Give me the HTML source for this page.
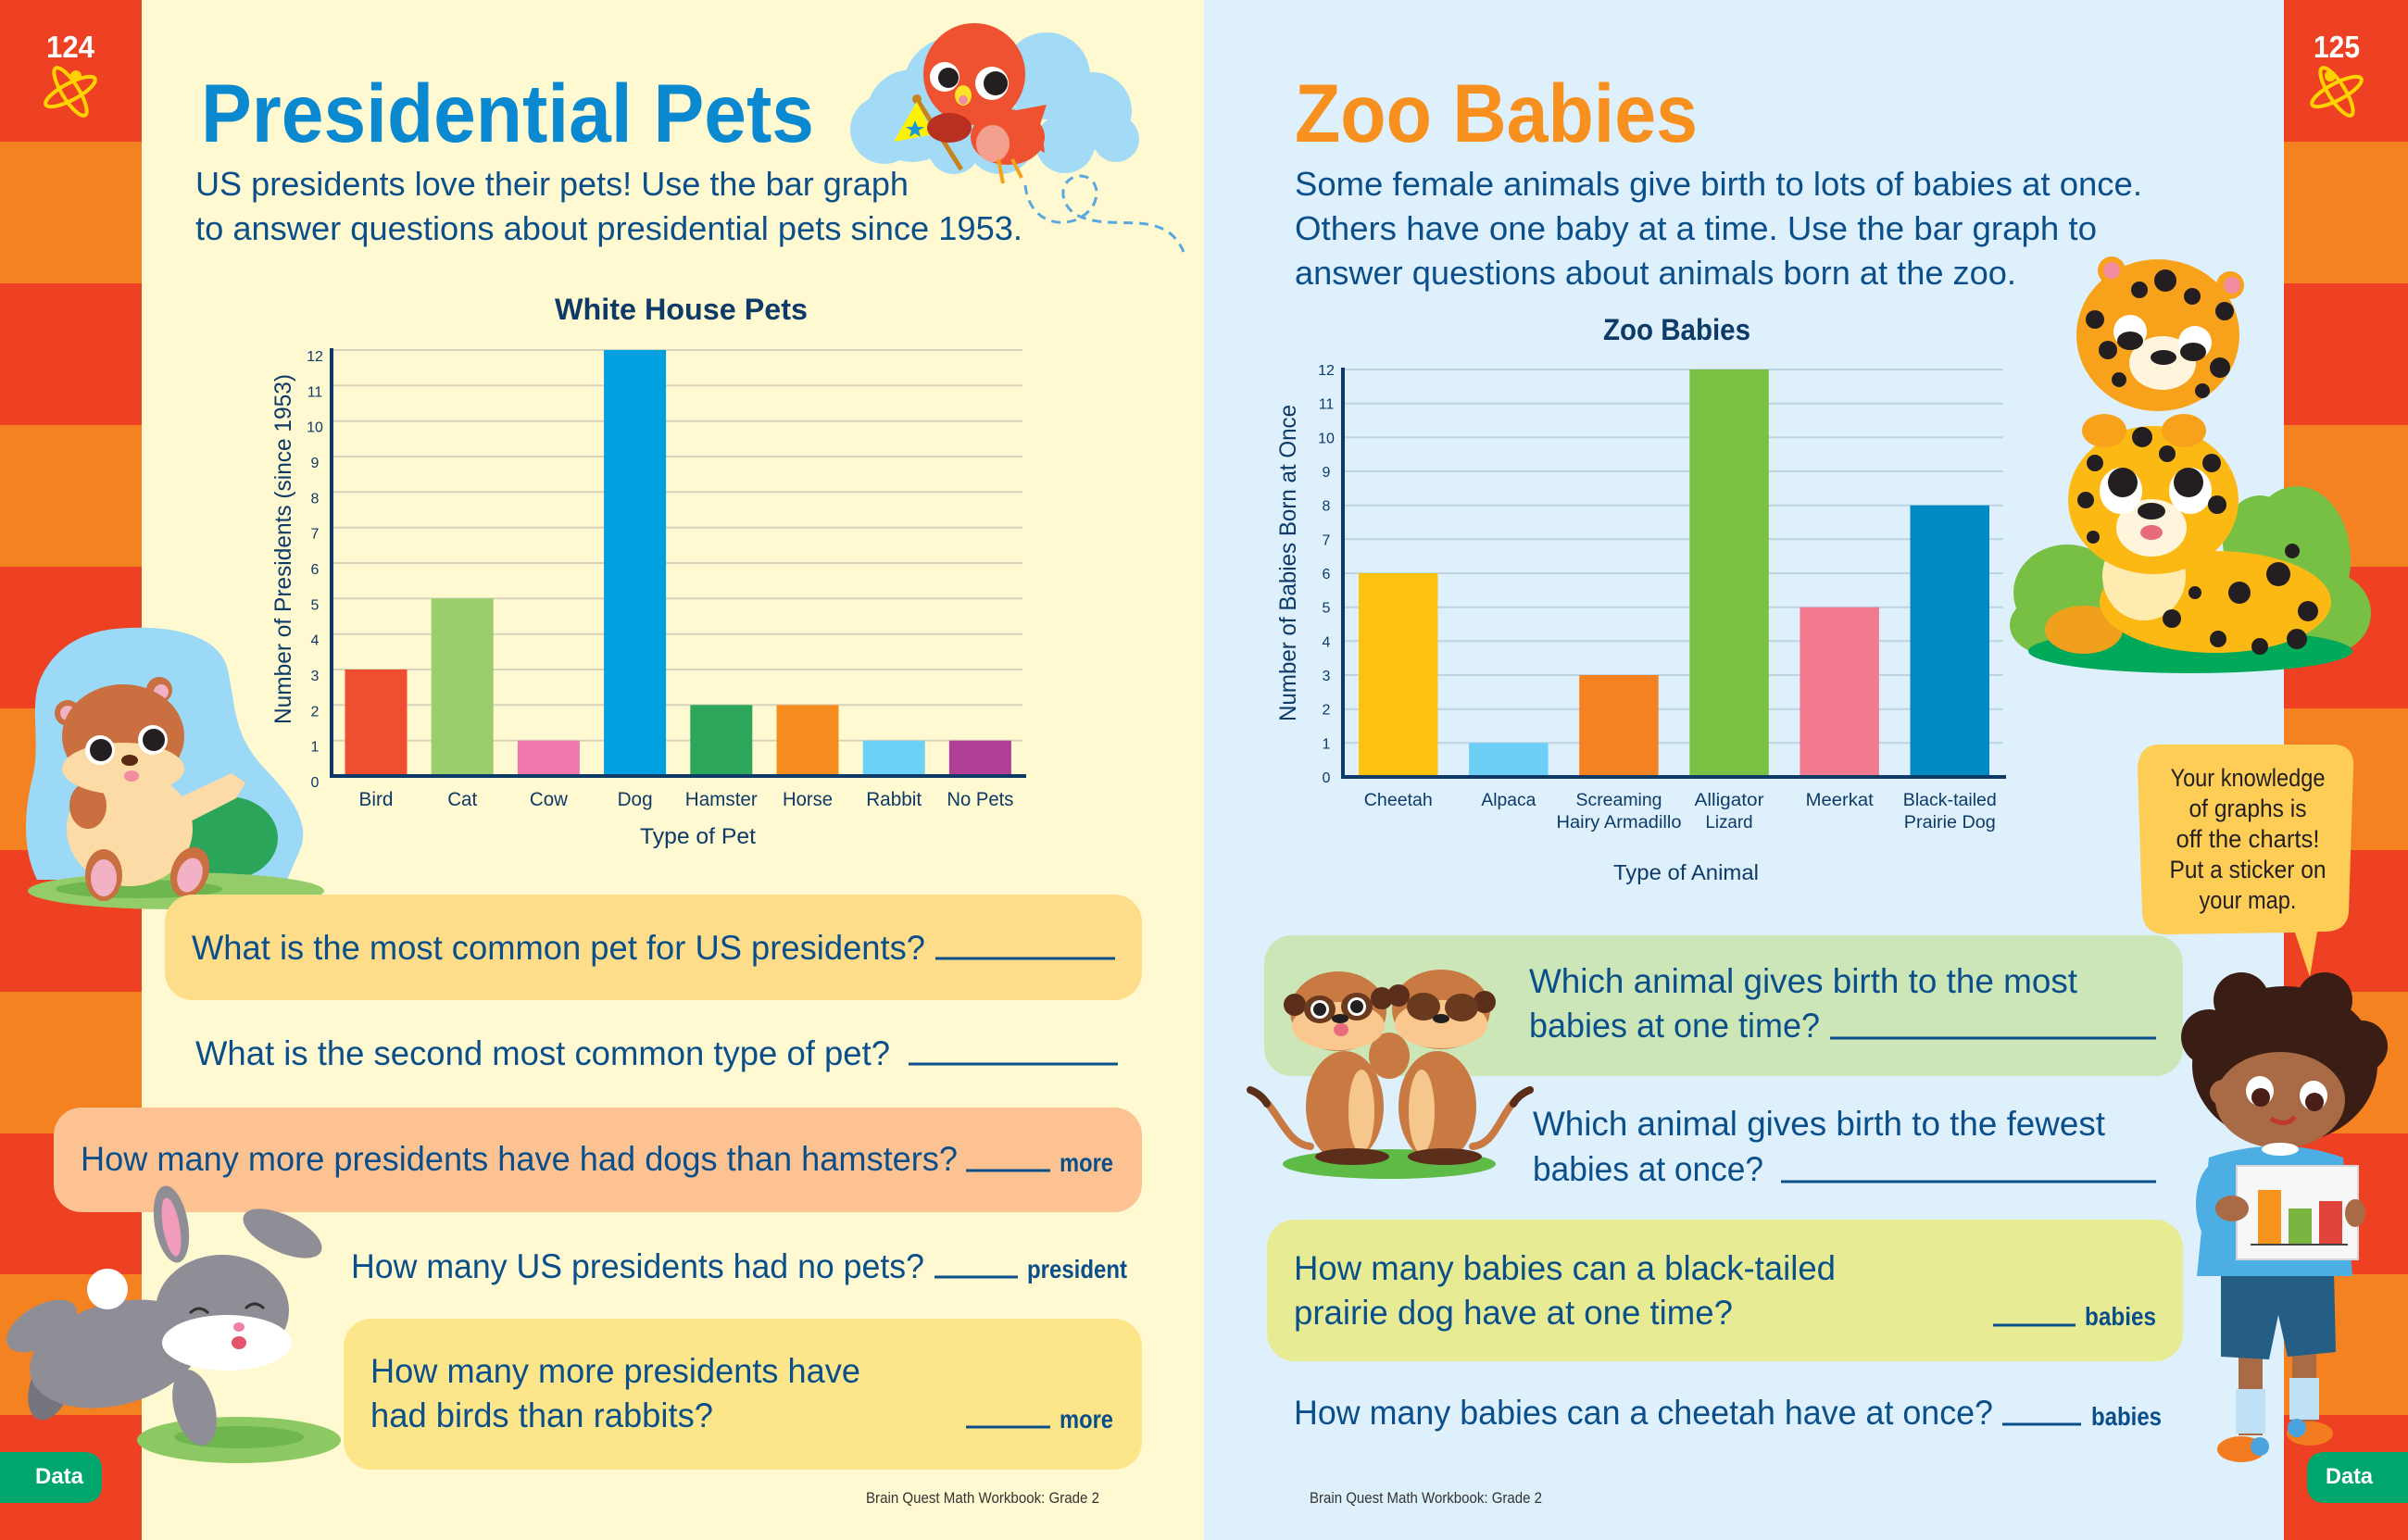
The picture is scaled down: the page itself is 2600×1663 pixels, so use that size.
<!DOCTYPE html>
<html><head><meta charset="utf-8">
<style>
html,body{margin:0;padding:0;background:#fff;}
svg{display:block;}
text{font-family:"Liberation Sans",sans-serif;}
.nv{fill:#0d3a66;}
.bd{fill:#0b4f8a;}
</style></head>
<body>
<svg width="2600" height="1663" viewBox="0 0 2600 1663" xmlns="http://www.w3.org/2000/svg">
<!-- page backgrounds -->
<rect x="0" y="0" width="1300" height="1663" fill="#fff9d1"/>
<rect x="1300" y="0" width="1300" height="1663" fill="#ddf0fc"/>
<!-- side stripes -->
<g>
<rect x="0" y="0" width="153" height="153" fill="#ee4123"/>
<rect x="0" y="153" width="153" height="153" fill="#f58220"/>
<rect x="0" y="306" width="153" height="153" fill="#ee4123"/>
<rect x="0" y="459" width="153" height="153" fill="#f58220"/>
<rect x="0" y="612" width="153" height="153" fill="#ee4123"/>
<rect x="0" y="765" width="153" height="153" fill="#f58220"/>
<rect x="0" y="918" width="153" height="153" fill="#ee4123"/>
<rect x="0" y="1071" width="153" height="153" fill="#f58220"/>
<rect x="0" y="1224" width="153" height="152" fill="#ee4123"/>
<rect x="0" y="1376" width="153" height="152" fill="#f58220"/>
<rect x="0" y="1528" width="153" height="135" fill="#ee4123"/>
<rect x="2466" y="0" width="134" height="153" fill="#ee4123"/>
<rect x="2466" y="153" width="134" height="153" fill="#f58220"/>
<rect x="2466" y="306" width="134" height="153" fill="#ee4123"/>
<rect x="2466" y="459" width="134" height="153" fill="#f58220"/>
<rect x="2466" y="612" width="134" height="153" fill="#ee4123"/>
<rect x="2466" y="765" width="134" height="153" fill="#f58220"/>
<rect x="2466" y="918" width="134" height="153" fill="#ee4123"/>
<rect x="2466" y="1071" width="134" height="153" fill="#f58220"/>
<rect x="2466" y="1224" width="134" height="152" fill="#ee4123"/>
<rect x="2466" y="1376" width="134" height="152" fill="#f58220"/>
<rect x="2466" y="1528" width="134" height="135" fill="#ee4123"/>
</g>
<!-- page numbers & atom icons -->
<text x="76" y="62" font-size="33" font-weight="bold" fill="#fff" text-anchor="middle" textLength="52" lengthAdjust="spacingAndGlyphs">124</text>
<text x="2523" y="62" font-size="33" font-weight="bold" fill="#fff" text-anchor="middle" textLength="50" lengthAdjust="spacingAndGlyphs">125</text>
<g fill="none" stroke="#ffd200" stroke-width="4">
<ellipse cx="76" cy="99" rx="30" ry="9" transform="rotate(-28 76 99)"/>
<ellipse cx="76" cy="99" rx="30" ry="9" transform="rotate(58 76 99)"/>
<ellipse cx="2523" cy="99" rx="30" ry="9" transform="rotate(-28 2523 99)"/>
<ellipse cx="2523" cy="99" rx="30" ry="9" transform="rotate(58 2523 99)"/>
</g>
<circle cx="82" cy="82" r="6" fill="#ffd200"/>
<circle cx="2516" cy="82" r="6" fill="#ffd200"/>

<!-- Titles -->
<text x="217" y="153" font-size="89" font-weight="bold" fill="#0b89d0" textLength="662" lengthAdjust="spacingAndGlyphs">Presidential Pets</text>
<text x="1398" y="153" font-size="89" font-weight="bold" fill="#f7901e" textLength="435" lengthAdjust="spacingAndGlyphs">Zoo Babies</text>

<!-- Subtitles -->
<g class="bd" font-size="36">
<text x="211" y="211" textLength="770" lengthAdjust="spacingAndGlyphs">US presidents love their pets! Use the bar graph</text>
<text x="211" y="259" textLength="893" lengthAdjust="spacingAndGlyphs">to answer questions about presidential pets since 1953.</text>
<text x="1398" y="211" textLength="915" lengthAdjust="spacingAndGlyphs">Some female animals give birth to lots of babies at once.</text>
<text x="1398" y="259" textLength="866" lengthAdjust="spacingAndGlyphs">Others have one baby at a time. Use the bar graph to</text>
<text x="1398" y="307" textLength="779" lengthAdjust="spacingAndGlyphs">answer questions about animals born at the zoo.</text>
</g>

<!-- Bird & cloud -->
<g>
<g fill="#a3dbf7">
<circle cx="985" cy="125" r="50"/>
<circle cx="955" cy="140" r="37"/>
<circle cx="1030" cy="95" r="55"/>
<circle cx="1130" cy="82" r="47"/>
<circle cx="1180" cy="120" r="42"/>
<circle cx="1205" cy="150" r="25"/>
<circle cx="1080" cy="150" r="38"/>
<circle cx="1150" cy="155" r="32"/>
<circle cx="1030" cy="160" r="28"/>
</g>
<path d="M1107,200 C1110,232 1135,246 1160,238 C1192,226 1190,190 1166,190 C1140,192 1142,228 1172,236 C1210,248 1258,226 1278,272" fill="none" stroke="#5aa8df" stroke-width="3" stroke-dasharray="10 7"/>
<line x1="990" y1="107" x2="1038" y2="183" stroke="#c8841c" stroke-width="5"/>
<circle cx="990" cy="107" r="5" fill="#c8841c"/>
<polygon points="965,153 990,110 1008,145" fill="#fff200"/>
<polygon points="988,130 991,137 998,137 992,141 994,148 988,144 982,148 984,141 978,137 985,137" fill="#1b9ad6"/>
<ellipse cx="1088" cy="148" rx="40" ry="30" fill="#ef5230"/>
<polygon points="1050,128 1130,113 1118,150" fill="#ef5230"/>
<polygon points="1100,150 1128,165 1125,140" fill="#ef5230"/>
<ellipse cx="1072" cy="155" rx="18" ry="20" fill="#f4a08e"/>
<circle cx="1052" cy="80" r="55" fill="#ef5230"/>
<ellipse cx="1025" cy="138" rx="24" ry="16" fill="#b8301f"/>
<circle cx="1020" cy="83" r="16" fill="#fff"/><circle cx="1024" cy="84" r="11" fill="#231f20"/>
<circle cx="1071" cy="90" r="18" fill="#fff"/><circle cx="1075" cy="90" r="13" fill="#231f20"/>
<ellipse cx="1040" cy="103" rx="9" ry="11" fill="#fde428"/>
<ellipse cx="1040" cy="108" rx="5" ry="5" fill="#f28ca0"/>
<path d="M1078,172 L1083,198 M1093,172 L1103,192" stroke="#f7a11b" stroke-width="4" fill="none"/>
</g>

<!-- LEFT CHART -->
<text x="735.5" y="345" font-size="32" font-weight="bold" class="nv" text-anchor="middle" textLength="273" lengthAdjust="spacingAndGlyphs">White House Pets</text>
<g stroke="#d8d4bc" stroke-width="2">
<line x1="358" y1="799.7" x2="1104" y2="799.7"/>
<line x1="358" y1="761.3" x2="1104" y2="761.3"/>
<line x1="358" y1="723" x2="1104" y2="723"/>
<line x1="358" y1="684.7" x2="1104" y2="684.7"/>
<line x1="358" y1="646.3" x2="1104" y2="646.3"/>
<line x1="358" y1="608" x2="1104" y2="608"/>
<line x1="358" y1="569.7" x2="1104" y2="569.7"/>
<line x1="358" y1="531.3" x2="1104" y2="531.3"/>
<line x1="358" y1="493" x2="1104" y2="493"/>
<line x1="358" y1="454.7" x2="1104" y2="454.7"/>
<line x1="358" y1="416.3" x2="1104" y2="416.3"/>
<line x1="358" y1="378" x2="1104" y2="378"/>
</g>
<rect x="372.5" y="723" width="67" height="115" fill="#f04e30"/>
<rect x="465.7" y="646.3" width="67" height="191.7" fill="#9bcd6b"/>
<rect x="558.9" y="799.7" width="67" height="38.3" fill="#f077ae"/>
<rect x="652.1" y="378" width="67" height="460" fill="#009fdf"/>
<rect x="745.3" y="761.3" width="67" height="76.7" fill="#2ba65a"/>
<rect x="838.5" y="761.3" width="67" height="76.7" fill="#f68b1f"/>
<rect x="931.7" y="799.7" width="67" height="38.3" fill="#6dd0f7"/>
<rect x="1024.9" y="799.7" width="67" height="38.3" fill="#b13f96"/>
<line x1="358" y1="376" x2="358" y2="840" stroke="#0d3a66" stroke-width="4"/>
<line x1="356" y1="838" x2="1108" y2="838" stroke="#0d3a66" stroke-width="4"/>
<g class="nv" font-size="16" text-anchor="middle">
<text x="340" y="850">0</text><text x="340" y="811.7">1</text><text x="340" y="773.3">2</text>
<text x="340" y="735">3</text><text x="340" y="696.7">4</text><text x="340" y="658.3">5</text>
<text x="340" y="620">6</text><text x="340" y="581.7">7</text><text x="340" y="543.3">8</text>
<text x="340" y="505">9</text><text x="340" y="466.7">10</text><text x="340" y="428.3">11</text>
<text x="340" y="390">12</text>
</g>
<g class="nv" font-size="21" text-anchor="middle">
<text x="406" y="870" textLength="37" lengthAdjust="spacingAndGlyphs">Bird</text>
<text x="499.2" y="870" textLength="32" lengthAdjust="spacingAndGlyphs">Cat</text>
<text x="592.4" y="870" textLength="41" lengthAdjust="spacingAndGlyphs">Cow</text>
<text x="685.6" y="870" textLength="38" lengthAdjust="spacingAndGlyphs">Dog</text>
<text x="778.8" y="870" textLength="78" lengthAdjust="spacingAndGlyphs">Hamster</text>
<text x="872" y="870" textLength="54" lengthAdjust="spacingAndGlyphs">Horse</text>
<text x="965.2" y="870" textLength="60" lengthAdjust="spacingAndGlyphs">Rabbit</text>
<text x="1058.4" y="870" textLength="72" lengthAdjust="spacingAndGlyphs">No Pets</text>
</g>
<text x="753.5" y="911" font-size="24" class="nv" text-anchor="middle" textLength="125" lengthAdjust="spacingAndGlyphs">Type of Pet</text>
<text transform="translate(314,593) rotate(-90)" font-size="25" class="nv" text-anchor="middle" textLength="378" lengthAdjust="spacingAndGlyphs">Number of Presidents (since 1953)</text>

<!-- RIGHT CHART -->
<text x="1810.5" y="367" font-size="32" font-weight="bold" class="nv" text-anchor="middle" textLength="159" lengthAdjust="spacingAndGlyphs">Zoo Babies</text>
<g stroke="#bed4e2" stroke-width="2">
<line x1="1450" y1="802.3" x2="2163" y2="802.3"/>
<line x1="1450" y1="765.7" x2="2163" y2="765.7"/>
<line x1="1450" y1="729" x2="2163" y2="729"/>
<line x1="1450" y1="692.3" x2="2163" y2="692.3"/>
<line x1="1450" y1="655.7" x2="2163" y2="655.7"/>
<line x1="1450" y1="619" x2="2163" y2="619"/>
<line x1="1450" y1="582.3" x2="2163" y2="582.3"/>
<line x1="1450" y1="545.7" x2="2163" y2="545.7"/>
<line x1="1450" y1="509" x2="2163" y2="509"/>
<line x1="1450" y1="472.3" x2="2163" y2="472.3"/>
<line x1="1450" y1="435.7" x2="2163" y2="435.7"/>
<line x1="1450" y1="399" x2="2163" y2="399"/>
</g>
<rect x="1467" y="619" width="85.5" height="220" fill="#fdc210"/>
<rect x="1586.1" y="802.3" width="85.5" height="36.7" fill="#6dcff6"/>
<rect x="1705.2" y="729" width="85.5" height="110" fill="#f58220"/>
<rect x="1824.3" y="399" width="85.5" height="440" fill="#7ac143"/>
<rect x="1943.4" y="655.7" width="85.5" height="183.3" fill="#f17a8f"/>
<rect x="2062.5" y="545.7" width="85.5" height="293.3" fill="#0089c3"/>
<line x1="1450" y1="397" x2="1450" y2="841" stroke="#0d3a66" stroke-width="4"/>
<line x1="1448" y1="839" x2="2166" y2="839" stroke="#0d3a66" stroke-width="4"/>
<g class="nv" font-size="16" text-anchor="middle">
<text x="1432" y="845">0</text><text x="1432" y="808.3">1</text><text x="1432" y="771.7">2</text>
<text x="1432" y="735">3</text><text x="1432" y="698.3">4</text><text x="1432" y="661.7">5</text>
<text x="1432" y="625">6</text><text x="1432" y="588.3">7</text><text x="1432" y="551.7">8</text>
<text x="1432" y="515">9</text><text x="1432" y="478.3">10</text><text x="1432" y="441.7">11</text>
<text x="1432" y="405">12</text>
</g>
<g class="nv" font-size="19" text-anchor="middle">
<text x="1509.8" y="870" textLength="74" lengthAdjust="spacingAndGlyphs">Cheetah</text>
<text x="1628.9" y="870" textLength="59" lengthAdjust="spacingAndGlyphs">Alpaca</text>
<text x="1748" y="870" textLength="93" lengthAdjust="spacingAndGlyphs">Screaming</text>
<text x="1748" y="894" textLength="135" lengthAdjust="spacingAndGlyphs">Hairy Armadillo</text>
<text x="1867" y="870" textLength="75" lengthAdjust="spacingAndGlyphs">Alligator</text>
<text x="1867" y="894" textLength="51" lengthAdjust="spacingAndGlyphs">Lizard</text>
<text x="1986.2" y="870" textLength="73" lengthAdjust="spacingAndGlyphs">Meerkat</text>
<text x="2105.3" y="870" textLength="101" lengthAdjust="spacingAndGlyphs">Black-tailed</text>
<text x="2105.3" y="894" textLength="99" lengthAdjust="spacingAndGlyphs">Prairie Dog</text>
</g>
<text x="1820.5" y="950" font-size="23" class="nv" text-anchor="middle" textLength="157" lengthAdjust="spacingAndGlyphs">Type of Animal</text>
<text transform="translate(1399,608) rotate(-90)" font-size="25" class="nv" text-anchor="middle" textLength="342" lengthAdjust="spacingAndGlyphs">Number of Babies  Born at Once</text>

<!-- Hamster -->
<g>
<path d="M117,680 C180,672 235,685 245,720 C255,760 250,790 283,827 C310,855 335,885 325,915 L310,950 L40,950 C25,920 25,880 35,840 C45,800 30,760 45,730 C60,700 85,685 117,680 Z" fill="#9bd9f6"/>
<ellipse cx="245" cy="905" rx="55" ry="45" fill="#2ba55a"/>
<ellipse cx="190" cy="962" rx="160" ry="20" fill="#95cc6a"/>
<ellipse cx="150" cy="960" rx="90" ry="10" fill="#6fb64e"/>
<ellipse cx="140" cy="895" rx="68" ry="62" fill="#fddba6"/>
<ellipse cx="95" cy="870" rx="20" ry="25" fill="#c96f40"/>
<path d="M175,870 L250,835 L265,845 L255,862 L190,895 Z" fill="#fddba6"/>
<circle cx="73" cy="770" r="14" fill="#c96f40"/><circle cx="73" cy="770" r="8" fill="#f2b1c4"/>
<circle cx="172" cy="745" r="14" fill="#c96f40"/><circle cx="174" cy="747" r="8" fill="#f2b1c4"/>
<ellipse cx="133" cy="795" rx="66" ry="56" fill="#c96f40"/>
<ellipse cx="133" cy="830" rx="66" ry="28" fill="#fddba6"/>
<circle cx="108" cy="810" r="16" fill="#fff"/><circle cx="109" cy="810" r="12" fill="#231f20"/>
<circle cx="165" cy="799" r="16" fill="#fff"/><circle cx="166" cy="799" r="12" fill="#231f20"/>
<ellipse cx="140" cy="821" rx="9" ry="6" fill="#5a2a15"/>
<ellipse cx="142" cy="838" rx="8" ry="6" fill="#f28ca0"/>
<ellipse cx="112" cy="945" rx="20" ry="28" fill="#c96f40"/><ellipse cx="112" cy="948" rx="14" ry="20" fill="#f2b1c4"/>
<ellipse cx="205" cy="942" rx="20" ry="28" fill="#c96f40" transform="rotate(20 205 942)"/><ellipse cx="205" cy="945" rx="13" ry="19" fill="#f2b1c4" transform="rotate(20 205 945)"/>
</g>

<!-- Question boxes left -->
<rect x="178" y="966" width="1055" height="114" rx="30" fill="#fddc8a"/>
<rect x="58" y="1196" width="1175" height="113" rx="30" fill="#fcc292"/>
<rect x="371" y="1424" width="862" height="163" rx="30" fill="#fde68a"/>

<g class="bd" font-size="37">
<text x="207" y="1036" textLength="792" lengthAdjust="spacingAndGlyphs">What is the most common pet for US presidents?</text>
<text x="211" y="1150" textLength="750" lengthAdjust="spacingAndGlyphs">What is the second most common type of pet?</text>
<text x="87" y="1264" textLength="947" lengthAdjust="spacingAndGlyphs">How many more presidents have had dogs than hamsters?</text>
<text x="379" y="1380" textLength="619" lengthAdjust="spacingAndGlyphs">How many US presidents had no pets?</text>
<text x="400" y="1493" textLength="529" lengthAdjust="spacingAndGlyphs">How many more presidents have</text>
<text x="400" y="1541" textLength="370" lengthAdjust="spacingAndGlyphs">had birds than rabbits?</text>
</g>
<g class="bd" font-size="28" font-weight="bold">
<text x="1144" y="1265" textLength="58" lengthAdjust="spacingAndGlyphs">more</text>
<text x="1109" y="1380" textLength="108" lengthAdjust="spacingAndGlyphs">president</text>
<text x="1144" y="1542" textLength="58" lengthAdjust="spacingAndGlyphs">more</text>
</g>
<g stroke="#0b4f8a" stroke-width="3">
<line x1="1010" y1="1035" x2="1204" y2="1035"/>
<line x1="981" y1="1149" x2="1207" y2="1149"/>
<line x1="1043" y1="1264" x2="1134" y2="1264"/>
<line x1="1009" y1="1379" x2="1099" y2="1379"/>
<line x1="1043" y1="1541" x2="1134" y2="1541"/>
</g>

<!-- Bunny -->
<g>
<ellipse cx="258" cy="1555" rx="110" ry="25" fill="#8dc963"/>
<ellipse cx="258" cy="1552" rx="70" ry="12" fill="#6fb64e"/>
<ellipse cx="45" cy="1432" rx="42" ry="22" fill="#8f8e96" transform="rotate(-30 45 1432)"/>
<ellipse cx="55" cy="1495" rx="22" ry="40" fill="#76757d" transform="rotate(20 55 1495)"/>
<ellipse cx="125" cy="1462" rx="95" ry="55" fill="#8f8e96" transform="rotate(-15 125 1462)"/>
<ellipse cx="210" cy="1520" rx="22" ry="42" fill="#8f8e96" transform="rotate(-15 210 1520)"/>
<circle cx="116" cy="1392" r="22" fill="#fff"/>
<ellipse cx="185" cy="1322" rx="18" ry="42" fill="#8f8e96" transform="rotate(-10 185 1322)"/>
<ellipse cx="185" cy="1325" rx="9" ry="32" fill="#f29cbc" transform="rotate(-10 185 1325)"/>
<ellipse cx="305" cy="1332" rx="46" ry="20" fill="#8f8e96" transform="rotate(25 305 1332)"/>
<ellipse cx="240" cy="1415" rx="72" ry="60" fill="#8f8e96"/>
<ellipse cx="245" cy="1450" rx="70" ry="30" fill="#fff"/>
<path d="M205,1418 q10,-10 20,0 M265,1413 q10,-10 20,0" stroke="#333" stroke-width="3" fill="none"/>
<ellipse cx="258" cy="1433" rx="6" ry="5" fill="#f27fa5"/>
<ellipse cx="258" cy="1450" rx="8" ry="7" fill="#e2556b"/>
</g>

<!-- Data tabs -->
<path d="M0,1568 L90,1568 Q110,1568 110,1588 L110,1603 Q110,1623 90,1623 L0,1623 Z" fill="#00a66b"/>
<text x="38" y="1602" font-size="24" font-weight="bold" fill="#fff" textLength="52" lengthAdjust="spacingAndGlyphs">Data</text>
<path d="M2600,1568 L2511,1568 Q2491,1568 2491,1588 L2491,1603 Q2491,1623 2511,1623 L2600,1623 Z" fill="#00a66b"/>
<text x="2511" y="1602" font-size="24" font-weight="bold" fill="#fff" textLength="51" lengthAdjust="spacingAndGlyphs">Data</text>

<!-- Footers -->
<text x="935" y="1623" font-size="17" fill="#333" textLength="252" lengthAdjust="spacingAndGlyphs">Brain Quest Math Workbook: Grade 2</text>
<text x="1414" y="1623" font-size="17" fill="#333" textLength="251" lengthAdjust="spacingAndGlyphs">Brain Quest Math Workbook: Grade 2</text>

<!-- Cheetahs -->
<g>
<g fill="#77c043">
<ellipse cx="2232" cy="640" rx="58" ry="52"/>
<ellipse cx="2212" cy="675" rx="42" ry="32"/>
<ellipse cx="2480" cy="605" rx="58" ry="80"/>
<ellipse cx="2510" cy="662" rx="50" ry="45"/>
<ellipse cx="2440" cy="585" rx="40" ry="50"/>
</g>
<ellipse cx="2365" cy="703" rx="175" ry="24" fill="#00a859"/>
<ellipse cx="2250" cy="680" rx="42" ry="26" fill="#f0a01c"/>
<ellipse cx="2392" cy="650" rx="125" ry="55" fill="#fdb913"/>
<ellipse cx="2315" cy="622" rx="45" ry="48" fill="#fdebb0"/>
<g fill="#231f20">
<circle cx="2418" cy="640" r="12"/><circle cx="2460" cy="620" r="13"/><circle cx="2492" cy="660" r="11"/>
<circle cx="2345" cy="668" r="10"/><circle cx="2395" cy="690" r="9"/><circle cx="2440" cy="698" r="9"/>
<circle cx="2475" cy="595" r="8"/><circle cx="2480" cy="690" r="11"/><circle cx="2370" cy="640" r="7"/>
</g>
<ellipse cx="2325" cy="540" rx="92" ry="80" fill="#fdb913"/>
<ellipse cx="2323" cy="570" rx="38" ry="31" fill="#fef5dc"/>
<ellipse cx="2290" cy="530" rx="23" ry="25" fill="#fff"/><circle cx="2292" cy="521" r="16" fill="#231f20"/>
<ellipse cx="2365" cy="530" rx="23" ry="25" fill="#fff"/><circle cx="2363" cy="521" r="16" fill="#231f20"/>
<ellipse cx="2323" cy="552" rx="15" ry="9" fill="#231f20"/>
<ellipse cx="2323" cy="575" rx="12" ry="8" fill="#e86b7c"/>
<g fill="#231f20">
<circle cx="2313" cy="472" r="11"/><circle cx="2340" cy="490" r="9"/><circle cx="2262" cy="500" r="9"/>
<circle cx="2388" cy="500" r="10"/><circle cx="2394" cy="545" r="10"/><circle cx="2252" cy="540" r="9"/>
<circle cx="2260" cy="580" r="7"/>
</g>
<ellipse cx="2330" cy="362" rx="88" ry="82" fill="#f8a11b"/>
<circle cx="2280" cy="292" r="15" fill="#f8a11b"/><circle cx="2280" cy="292" r="9" fill="#f28ca0"/>
<circle cx="2408" cy="308" r="15" fill="#f8a11b"/><circle cx="2410" cy="308" r="9" fill="#f28ca0"/>
<ellipse cx="2335" cy="392" rx="36" ry="29" fill="#fef5dc"/>
<circle cx="2300" cy="358" r="18" fill="#fff"/><ellipse cx="2300" cy="368" rx="14" ry="10" fill="#231f20"/>
<circle cx="2370" cy="370" r="18" fill="#fff"/><ellipse cx="2368" cy="380" rx="14" ry="10" fill="#231f20"/>
<ellipse cx="2336" cy="386" rx="14" ry="8" fill="#231f20"/>
<g fill="#231f20">
<circle cx="2338" cy="303" r="12"/><circle cx="2310" cy="313" r="9"/><circle cx="2367" cy="320" r="9"/>
<circle cx="2262" cy="345" r="10"/><circle cx="2402" cy="336" r="10"/><circle cx="2276" cy="378" r="10"/>
<circle cx="2397" cy="397" r="11"/><circle cx="2288" cy="410" r="8"/><circle cx="2378" cy="422" r="8"/>
</g>
<ellipse cx="2272" cy="465" rx="24" ry="18" fill="#f8a11b"/>
<ellipse cx="2358" cy="465" rx="24" ry="18" fill="#f8a11b"/>
</g>

<!-- Question boxes right -->
<rect x="1365" y="1010" width="992" height="152" rx="30" fill="#cde6b8"/>
<rect x="1368" y="1317" width="989" height="153" rx="30" fill="#e7ec94"/>

<!-- Meerkats -->
<g>
<ellipse cx="1500" cy="1257" rx="115" ry="16" fill="#5dbb46"/>
<path d="M1350,1177 C1380,1190 1385,1235 1415,1238" stroke="#c87a42" stroke-width="8" fill="none" stroke-linecap="round"/>
<path d="M1652,1177 C1620,1190 1620,1235 1590,1238" stroke="#c87a42" stroke-width="8" fill="none" stroke-linecap="round"/>
<path d="M1350,1177 C1358,1180 1364,1185 1368,1192" stroke="#5a2e1a" stroke-width="8" fill="none" stroke-linecap="round"/>
<path d="M1652,1177 C1644,1180 1638,1185 1634,1192" stroke="#5a2e1a" stroke-width="8" fill="none" stroke-linecap="round"/>
<ellipse cx="1452" cy="1195" rx="42" ry="60" fill="#c87a42"/>
<ellipse cx="1470" cy="1200" rx="14" ry="45" fill="#f6c78c"/>
<ellipse cx="1552" cy="1195" rx="42" ry="60" fill="#c87a42"/>
<ellipse cx="1535" cy="1200" rx="14" ry="45" fill="#f6c78c"/>
<ellipse cx="1500" cy="1140" rx="22" ry="25" fill="#c87a42"/>
<ellipse cx="1460" cy="1249" rx="40" ry="9" fill="#5a2e1a"/>
<ellipse cx="1560" cy="1249" rx="40" ry="9" fill="#5a2e1a"/>
<ellipse cx="1445" cy="1092" rx="52" ry="43" fill="#c87a42"/>
<ellipse cx="1445" cy="1108" rx="50" ry="26" fill="#fac88e"/>
<circle cx="1398" cy="1085" r="12" fill="#5a2e1a"/><circle cx="1492" cy="1078" r="12" fill="#5a2e1a"/>
<ellipse cx="1425" cy="1090" rx="17" ry="15" fill="#6a3a1e"/><circle cx="1425" cy="1090" r="10" fill="#fff"/><circle cx="1425" cy="1090" r="7" fill="#231f20"/>
<ellipse cx="1465" cy="1087" rx="17" ry="15" fill="#6a3a1e"/><circle cx="1465" cy="1087" r="10" fill="#fff"/><circle cx="1465" cy="1087" r="7" fill="#231f20"/>
<ellipse cx="1447" cy="1100" rx="9" ry="5" fill="#231f20"/>
<ellipse cx="1448" cy="1112" rx="8" ry="7" fill="#e86b7c"/>
<ellipse cx="1556" cy="1090" rx="53" ry="43" fill="#c87a42"/>
<ellipse cx="1556" cy="1106" rx="50" ry="26" fill="#fac88e"/>
<circle cx="1510" cy="1075" r="12" fill="#5a2e1a"/><circle cx="1603" cy="1082" r="12" fill="#5a2e1a"/>
<ellipse cx="1537" cy="1087" rx="18" ry="15" fill="#6a3a1e"/>
<ellipse cx="1578" cy="1088" rx="18" ry="15" fill="#6a3a1e"/>
<ellipse cx="1556" cy="1100" rx="9" ry="5" fill="#231f20"/>
</g>

<g class="bd" font-size="37">
<text x="1651" y="1072" textLength="592" lengthAdjust="spacingAndGlyphs">Which animal gives birth to the most</text>
<text x="1651" y="1120" textLength="314" lengthAdjust="spacingAndGlyphs">babies at one time?</text>
<text x="1655" y="1226" textLength="618" lengthAdjust="spacingAndGlyphs">Which animal gives birth to the fewest</text>
<text x="1655" y="1275" textLength="249" lengthAdjust="spacingAndGlyphs">babies at once?</text>
<text x="1397" y="1382" textLength="585" lengthAdjust="spacingAndGlyphs">How many babies can a black-tailed</text>
<text x="1397" y="1430" textLength="474" lengthAdjust="spacingAndGlyphs">prairie dog have at one time?</text>
<text x="1397" y="1538" textLength="755" lengthAdjust="spacingAndGlyphs">How many babies can a cheetah have at once?</text>
</g>
<g class="bd" font-size="28" font-weight="bold">
<text x="2251" y="1431" textLength="77" lengthAdjust="spacingAndGlyphs">babies</text>
<text x="2258" y="1539" textLength="76" lengthAdjust="spacingAndGlyphs">babies</text>
</g>
<g stroke="#0b4f8a" stroke-width="3">
<line x1="1976" y1="1121" x2="2328" y2="1121"/>
<line x1="1923" y1="1276" x2="2328" y2="1276"/>
<line x1="2152" y1="1431" x2="2241" y2="1431"/>
<line x1="2162" y1="1538" x2="2247" y2="1538"/>
</g>

<!-- Speech bubble -->
<path d="M2330,804 L2522,804 Q2543,806 2541,830 L2536,985 Q2534,1005 2512,1006 L2502,1006 L2494,1055 L2478,1007 L2338,1009 Q2314,1008 2313,985 L2308,830 Q2309,805 2330,804 Z" fill="#fdcd55"/>
<g fill="#231f20" font-size="27" text-anchor="middle">
<text x="2427" y="849" textLength="167" lengthAdjust="spacingAndGlyphs">Your knowledge</text>
<text x="2427" y="882" textLength="127" lengthAdjust="spacingAndGlyphs">of graphs is</text>
<text x="2427" y="915" textLength="155" lengthAdjust="spacingAndGlyphs">off the charts!</text>
<text x="2427" y="948" textLength="169" lengthAdjust="spacingAndGlyphs">Put a sticker on</text>
<text x="2427" y="981" textLength="105" lengthAdjust="spacingAndGlyphs">your map.</text>
</g>

<!-- Kid -->
<g>
<rect x="2417" y="1455" width="26" height="95" fill="#a86b46"/>
<rect x="2475" y="1440" width="26" height="95" fill="#a86b46"/>
<rect x="2414" y="1500" width="32" height="48" fill="#bfe1f5"/>
<rect x="2472" y="1488" width="32" height="45" fill="#bfe1f5"/>
<ellipse cx="2420" cy="1565" rx="26" ry="14" fill="#f47c20"/>
<ellipse cx="2494" cy="1548" rx="25" ry="13" fill="#f47c20"/>
<ellipse cx="2440" cy="1562" rx="10" ry="10" fill="#4aa3dd"/>
<ellipse cx="2480" cy="1542" rx="10" ry="10" fill="#4aa3dd"/>
<path d="M2398,1372 L2520,1372 L2522,1460 L2470,1465 L2460,1420 L2450,1468 L2398,1465 Z" fill="#245e85"/>
<ellipse cx="2467" cy="1150" rx="100" ry="85" fill="#3a1e15"/>
<circle cx="2385" cy="1120" r="30" fill="#3a1e15"/>
<circle cx="2550" cy="1130" r="28" fill="#3a1e15"/>
<circle cx="2420" cy="1080" r="30" fill="#3a1e15"/>
<circle cx="2510" cy="1080" r="30" fill="#3a1e15"/>
<path d="M2385,1250 Q2460,1225 2530,1250 L2540,1378 L2372,1378 Z" fill="#4daee4"/>
<ellipse cx="2395" cy="1300" rx="24" ry="45" fill="#4daee4"/>
<rect x="2448" y="1215" width="30" height="25" fill="#8f5535"/>
<ellipse cx="2462" cy="1188" rx="70" ry="52" fill="#a86b46"/>
<circle cx="2400" cy="1180" r="14" fill="#a86b46"/>
<ellipse cx="2440" cy="1178" rx="15" ry="16" fill="#fff"/><circle cx="2441" cy="1185" r="10" fill="#4a1f17"/>
<ellipse cx="2498" cy="1183" rx="15" ry="16" fill="#fff"/><circle cx="2499" cy="1190" r="10" fill="#4a1f17"/>
<path d="M2452,1208 Q2468,1218 2478,1206" stroke="#c0392b" stroke-width="5" fill="none"/>
<ellipse cx="2462" cy="1241" rx="20" ry="7" fill="#fff"/>
<rect x="2415" y="1259" width="131" height="101" fill="#f7f7f7" stroke="#d6d6d6" stroke-width="2"/>
<rect x="2438" y="1285" width="25" height="58" fill="#f7941d"/>
<rect x="2471" y="1305" width="25" height="38" fill="#7ab541"/>
<rect x="2504" y="1297" width="25" height="46" fill="#e0443a"/>
<line x1="2430" y1="1344" x2="2535" y2="1344" stroke="#444" stroke-width="2"/>
<ellipse cx="2410" cy="1305" rx="18" ry="14" fill="#a86b46"/>
<ellipse cx="2543" cy="1310" rx="11" ry="15" fill="#a86b46"/>
</g>
</svg>
</body></html>
